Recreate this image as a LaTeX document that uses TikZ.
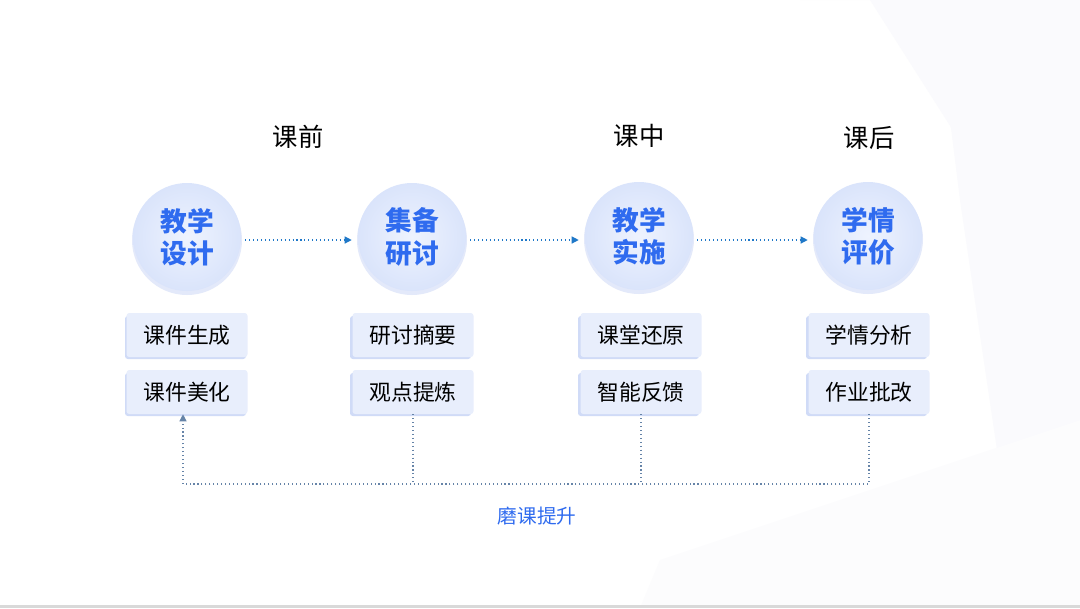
\documentclass[tikz,border=0pt]{standalone}
\usepackage{fontspec}
\setmainfont{Noto Sans CJK SC}
\usetikzlibrary{arrows.meta}
\definecolor{stepblue}{HTML}{2F6BEF}
\definecolor{flowblue}{HTML}{1F78C8}
\definecolor{backgray}{HTML}{6684A8}
\definecolor{boxfill}{HTML}{E8EEFC}
\definecolor{boxshade}{HTML}{D0DBF7}
\definecolor{ringin}{HTML}{EEF3FE}
\definecolor{ringout}{HTML}{DAE4FB}

\begin{document}
\begin{tikzpicture}[x=0.025cm,y=-0.025cm,
  stage/.style={circle,minimum size=108*0.025cm,inner sep=0pt,align=center,
    inner color=ringin,outer color=ringout,
    font=\fontsize{19}{23}\selectfont\bfseries,text=stepblue},
  task/.style={rectangle,rounded corners=2pt,minimum width=121*0.025cm,minimum height=44*0.025cm,
    fill=boxfill,font=\fontsize{15.5}{18}\selectfont},
  flow/.style={flowblue,dotted,thick,-{Triangle[length=5pt,width=5pt]},shorten <=4*0.025cm,shorten >=6*0.025cm},
  back/.style={backgray,dotted,thick}]
% background
\fill[white] (0,0) rectangle (1080,608);
\fill[blue!40!gray!3] (800,0) -- (1080,0) -- (1080,330) -- (870,0) -- cycle;
\fill[blue!40!gray!3] (940,40) -- (1080,110) -- (1080,600) -- (1000,470) -- (960,200) -- cycle;
\fill[blue!30!gray!2] (660,560) -- (1080,420) -- (1080,608) -- (640,608) -- cycle;
\fill[black!15] (0,605) rectangle (1080,608);

% phase titles
\path (298,137) node[font=\fontsize{18}{21}\selectfont] (before) {课前};
\path (639,136) node[font=\fontsize{18}{21}\selectfont] (during) {课中};
\path (869,138) node[font=\fontsize{18}{21}\selectfont] (after) {课后};

% stages
\fill[boxshade!60] (187,240) circle (55);
\path (187,237) node[stage] (design) {教学\\设计};
\fill[boxshade!60] (412,240) circle (55);
\path (412,237) node[stage] (discuss) {集备\\研讨};
\fill[boxshade!60] (639,239) circle (55);
\path (639,236) node[stage] (teach) {教学\\实施};
\fill[boxshade!60] (868,239) circle (55);
\path (868,236) node[stage] (assess) {学情\\评价};
\draw[flow] ([yshift=-3*0.025cm]design.east) -- ([yshift=-3*0.025cm]discuss.west);
\draw[flow] ([yshift=-3*0.025cm]discuss.east) -- ([yshift=-4*0.025cm]teach.west);
\draw[flow] ([yshift=-4*0.025cm]teach.east) -- ([yshift=-4*0.025cm]assess.west);

% tasks
\fill[boxshade,rounded corners=2pt] (125,316) rectangle (246,359);
\path (187,335) node[task] (design1) {课件生成};
\fill[boxshade,rounded corners=2pt] (125,373) rectangle (246,416);
\path (187,392) node[task] (design2) {课件美化};
\fill[boxshade,rounded corners=2pt] (350,316) rectangle (471,359);
\path (413,335) node[task] (discuss1) {研讨摘要};
\fill[boxshade,rounded corners=2pt] (350,373) rectangle (471,416);
\path (413,392) node[task] (discuss2) {观点提炼};
\fill[boxshade,rounded corners=2pt] (578,316) rectangle (699,359);
\path (641,335) node[task] (teach1) {课堂还原};
\fill[boxshade,rounded corners=2pt] (578,373) rectangle (699,416);
\path (641,392) node[task] (teach2) {智能反馈};
\fill[boxshade,rounded corners=2pt] (806,316) rectangle (927,359);
\path (869,335) node[task] (assess1) {学情分析};
\fill[boxshade,rounded corners=2pt] (806,373) rectangle (927,416);
\path (869,392) node[task] (assess2) {作业批改};

% feedback loop
\coordinate (base) at (183,484);
\draw[back] (discuss2) -- (discuss2 |- base);
\draw[back] (teach2) -- (teach2 |- base);
\draw[back,-{Triangle[length=5pt,width=5pt]}] (assess2) |- (base) -- (base |- design2.south);
\path (537,516) node[text=stepblue,font=\fontsize{14}{16}\selectfont] (polish) {磨课提升};
\end{tikzpicture}
\end{document}
